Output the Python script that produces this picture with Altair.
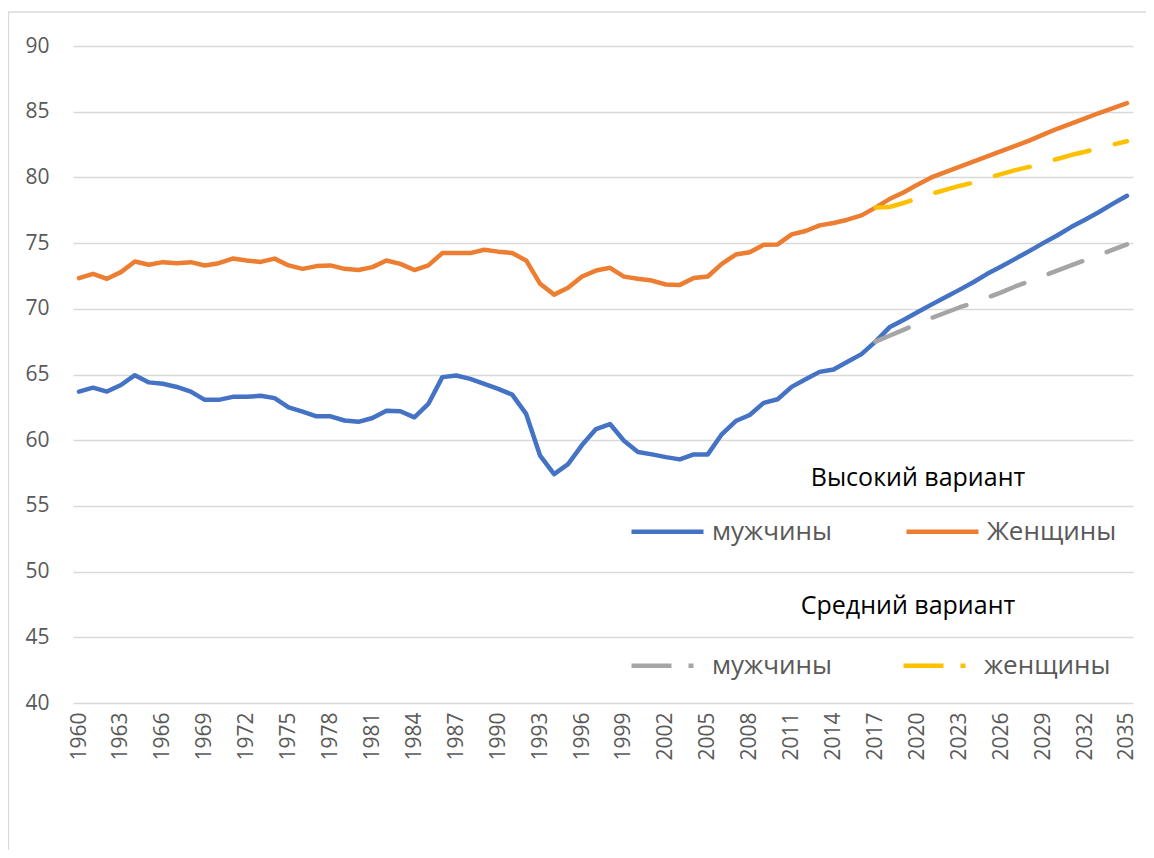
import altair as alt
import pandas as pd

# ---- data ----
years = list(range(1960, 2036))
men_high = [63.7, 64.0, 63.7, 64.2, 64.95, 64.4, 64.3, 64.05, 63.7, 63.07,
            63.07, 63.3, 63.3, 63.38, 63.2, 62.5, 62.18, 61.82, 61.82, 61.5,
            61.4, 61.69, 62.25, 62.2, 61.74, 62.76, 64.8, 64.92, 64.67, 64.29,
            63.9, 63.47, 62.0, 58.82, 57.42, 58.18, 59.63, 60.85, 61.23, 59.96,
            59.1, 58.92, 58.71, 58.54, 58.92, 58.92, 60.45, 61.46, 61.92, 62.84,
            63.12, 64.06, 64.64, 65.2, 65.38, 65.97, 66.55, 67.5, 68.59, 69.15,
            69.73, 70.32, 70.88, 71.44, 72.02, 72.66, 73.22, 73.8, 74.39, 75.0,
            75.58, 76.22, 76.78, 77.37, 78.0, 78.6]
women_high = [72.33, 72.66, 72.28, 72.79, 73.6, 73.35, 73.55, 73.47, 73.55, 73.3,
              73.47, 73.82, 73.68, 73.57, 73.82, 73.3, 73.04, 73.25, 73.3, 73.04,
              72.95, 73.17, 73.68, 73.42, 72.95, 73.3, 74.24, 74.24, 74.24, 74.49,
              74.35, 74.24, 73.68, 71.9, 71.08, 71.6, 72.46, 72.91, 73.12, 72.45,
              72.28, 72.15, 71.85, 71.82, 72.35, 72.46, 73.42, 74.13, 74.31, 74.87,
              74.9, 75.66, 75.92, 76.35, 76.53, 76.78, 77.11, 77.7, 78.35, 78.85,
              79.45, 80.0, 80.4, 80.8, 81.2, 81.6, 82.0, 82.4, 82.8, 83.25,
              83.7, 84.1, 84.5, 84.9, 85.27, 85.65]
years_mid = list(range(2017, 2036))
men_mid = [67.5, 67.95, 68.4, 68.85, 69.3, 69.7, 70.1, 70.45, 70.85, 71.25,
           71.7, 72.1, 72.5, 72.9, 73.3, 73.7, 74.1, 74.5, 74.9]
women_mid = [77.7, 77.75, 78.05, 78.4, 78.75, 79.05, 79.35, 79.6, 79.95, 80.25,
             80.55, 80.8, 81.1, 81.4, 81.7, 81.95, 82.25, 82.5, 82.75]

tick_years = list(range(1960, 2036, 3))
y_ticks = list(range(40, 91, 5))

high_names = ["мужчины", "Женщины"]
mid_names = ["мужчины", "женщины"]
high_colors = ["#4472C4", "#ED7D31"]
mid_colors = ["#A5A5A5", "#FFC000"]
legend_titles = ["Высокий вариант", "Средний вариант"]

high_df = pd.DataFrame({
    "year": years + years,
    "value": men_high + women_high,
    "series": [high_names[0]] * len(years) + [high_names[1]] * len(years),
})
mid_df = pd.DataFrame({
    "year": years_mid + years_mid,
    "value": men_mid + women_mid,
    "series": [mid_names[0]] * len(years_mid) + [mid_names[1]] * len(years_mid),
})

FONT = "Open Sans"

x_enc = alt.X(
    "year:Q",
    title=None,
    scale=alt.Scale(domain=[1959.57, 2035.43], nice=False, zero=False),
    axis=alt.Axis(values=tick_years, format="d", labelAngle=270, grid=False,
                  domain=False, ticks=False, tickSize=0, labelPadding=9,
                  labelFont=FONT, labelFontSize=21, labelColor="#595959",
                  labelOverlap=False, labelFlush=False),
)
y_enc = alt.Y(
    "value:Q",
    title=None,
    scale=alt.Scale(domain=[40, 90], nice=False, zero=False),
    axis=alt.Axis(values=y_ticks, grid=True, gridColor="#d9d9d9", gridWidth=1.3,
                  domain=False, ticks=False, tickSize=0, labelPadding=24,
                  labelFont=FONT, labelFontSize=21, labelColor="#595959"),
)

legend_common = dict(
    orient="none", direction="horizontal", columns=2, gridAlign="all",
    symbolType="stroke", symbolSize=5184, symbolStrokeWidth=4.5,
    labelFont=FONT, labelFontSize=26, labelColor="#595959", labelOffset=6,
    labelLimit=400, columnPadding=55, padding=0, legendX=556, title=None,
)

border = alt.Chart(alt.Data(values=[{}])).mark_rect(
    fillOpacity=0, stroke="#d9d9d9", strokeWidth=1.3
).encode(
    x=alt.value(-64.5), x2=alt.value(1200),
    y=alt.value(-34), y2=alt.value(1000),
)

high = alt.Chart(high_df).mark_line(
    strokeWidth=4.5, strokeCap="round", strokeJoin="round"
).encode(
    x=x_enc, y=y_enc,
    color=alt.Color("series:N",
                    scale=alt.Scale(domain=high_names, range=high_colors),
                    sort=high_names,
                    legend=alt.Legend(legendY=447, **legend_common)),
)

mid = alt.Chart(mid_df).mark_line(
    strokeWidth=4.5, strokeCap="round", strokeJoin="round", strokeDash=[36, 26]
).encode(
    x=x_enc, y=y_enc,
    color=alt.Color("series:N",
                    scale=alt.Scale(domain=mid_names, range=mid_colors),
                    sort=mid_names,
                    legend=alt.Legend(legendY=581, symbolDash=[40, 17, 5, 100],
                                      **legend_common)),
)

title_style = dict(font=FONT, fontSize=25, color="#000000", align="center",
                   baseline="middle")
title_high = alt.Chart(alt.Data(values=[{"t": legend_titles[0]}])).mark_text(
    **title_style
).encode(text="t:N", x=alt.value(845), y=alt.value(432))
title_mid = alt.Chart(alt.Data(values=[{"t": legend_titles[1]}])).mark_text(
    **title_style
).encode(text="t:N", x=alt.value(835), y=alt.value(560))

chart = alt.layer(border, high, mid, title_high, title_mid).resolve_scale(
    color="independent"
).properties(
    width=1060, height=657,
    autosize=alt.AutoSizeParams(type="none"),
    padding={"left": 65, "top": 38, "right": 13, "bottom": 147},
    background="white",
).configure_view(stroke=None)

chart.save("out.html", embed_options={"renderer": "svg", "actions": False})
